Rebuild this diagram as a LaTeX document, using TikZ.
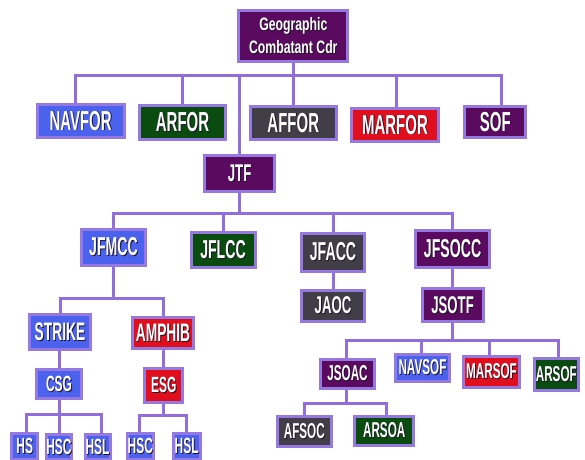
\documentclass[tikz,border=0pt]{standalone}
\usepackage{fontspec}
\newfontfamily\bxf[FakeStretch=0.545]{Liberation Sans Bold}
\newfontfamily\geof[FakeStretch=0.68]{Liberation Sans Bold}
\definecolor{navblue}{RGB}{74,98,238}
\definecolor{dgreen}{RGB}{10,75,15}
\definecolor{dgray}{RGB}{65,62,72}
\definecolor{cred}{RGB}{225,15,30}
\definecolor{cpurple}{RGB}{90,10,95}
\definecolor{bordc}{RGB}{150,120,225}
\definecolor{connc}{RGB}{145,110,220}
\definecolor{shadowc}{RGB}{30,20,40}
\newcommand\sh[1]{\rlap{\kern0.9pt\raisebox{-0.9pt}{\color{shadowc}#1}}#1}
\tikzset{
  box/.style={draw=bordc, line width=3pt, text=white, inner sep=0pt, align=center},
  conn/.style={draw=connc, line width=3pt},
  fs/.style={font=\bxf\fontsize{#1}{#1}\selectfont},
  sz/.style args={#1x#2}{minimum width=#1pt-3pt, minimum height=#2pt-3pt},
}
\begin{document}
\begin{tikzpicture}[x=1pt,y=-1pt]
\useasboundingbox (0,0) rectangle (585,459);
\fill[white] (0,0) rectangle (585,459);
% nodes
\node[box, fill=cpurple, sz=112x54, font=\geof\fontsize{18}{23}\selectfont] (geo) at (293.3,36) {\sh{Geographic}\\\sh{Combatant Cdr}};
\node[box, fill=navblue, fs=27.5, sz=90x36] (navfor) at (80.6,121) {\sh{NAVFOR}};
\node[box, fill=dgreen, fs=27.5, sz=89.5x37] (arfor) at (182.5,122.5) {\sh{ARFOR}};
\node[box, fill=dgray, fs=27.5, sz=89.5x36] (affor) at (293.3,123) {\sh{AFFOR}};
\node[box, fill=cred, fs=27.5, sz=89.5x36] (marfor) at (395,125) {\sh{MARFOR}};
\node[box, fill=cpurple, fs=27.5, sz=64x34] (sof) at (495.3,122) {\sh{SOF}};
\node[box, fill=cpurple, fs=24.2, sz=73.5x39] (jtf) at (239.6,173.5) {\sh{JTF}};
\node[box, fill=navblue, fs=25.9, sz=67x39.7] (jfmcc) at (113.5,247.5) {\sh{JFMCC}};
\node[box, fill=dgreen, fs=25.9, sz=67x38] (jflcc) at (223,250) {\sh{JFLCC}};
\node[box, fill=dgray, fs=25.9, sz=66.4x41] (jfacc) at (333,252.2) {\sh{JFACC}};
\node[box, fill=cpurple, fs=25.9, sz=76.5x40] (jfsocc) at (452.6,249.3) {\sh{JFSOCC}};
\node[box, fill=dgray, fs=24.2, sz=66x34] (jaoc) at (333,305.5) {\sh{JAOC}};
\node[box, fill=cpurple, fs=24.2, sz=64x36] (jsotf) at (452.6,305.3) {\sh{JSOTF}};
\node[box, fill=navblue, fs=25.3, sz=64.6x37.3] (strike) at (60,332) {\sh{STRIKE}};
\node[box, fill=cred, fs=25.3, sz=64.5x34] (amphib) at (163,333) {\sh{AMPHIB}};
\node[box, fill=navblue, fs=22, sz=48.5x31.7] (csg) at (59,384) {\sh{CSG}};
\node[box, fill=cred, fs=22, sz=41x36.7] (esg) at (163.8,385.7) {\sh{ESG}};
\node[box, fill=navblue, fs=22, sz=29x29] (hs) at (24.7,446.5) {\sh{HS}};
\node[box, fill=navblue, fs=22, sz=28x28] (hsc) at (59,447) {\sh{HSC}};
\node[box, fill=navblue, fs=22, sz=28x28] (hsl) at (97.5,447) {\sh{HSL}};
\node[box, fill=navblue, fs=22, sz=29x29] (hsc2) at (140.3,446.5) {\sh{HSC}};
\node[box, fill=navblue, fs=22, sz=30x29] (hsl2) at (186.7,446.5) {\sh{HSL}};
\node[box, fill=cpurple, fs=21.5, sz=57.4x31.7] (jsoac) at (347.5,374) {\sh{JSOAC}};
\node[box, fill=navblue, fs=21.5, sz=56.4x30.6] (navsof) at (422.5,368) {\sh{NAVSOF}};
\node[box, fill=cred, fs=21.5, sz=58.4x34] (marsof) at (491.5,372) {\sh{MARSOF}};
\node[box, fill=dgreen, fs=21.5, sz=47.3x34.4] (arsof) at (556.3,374.5) {\sh{ARSOF}};
\node[box, fill=dgray, fs=21.5, sz=56.7x33] (afsoc) at (304.3,431.5) {\sh{AFSOC}};
\node[box, fill=dgreen, fs=21.5, sz=61.7x31.7] (arsoa) at (384.2,431) {\sh{ARSOA}};
% connectors
\coordinate (b1) at (geo.south |- 0,75);
\draw[conn] (geo.south) -- (b1);
\draw[conn] (b1) -| ([xshift=-5.6pt]navfor.north);
\draw[conn] (b1) -| (arfor.north);
\draw[conn] (b1) -- (affor.north);
\draw[conn] (b1) -| ([xshift=1pt]marfor.north);
\draw[conn] (b1) -| ([xshift=6.2pt]sof.north);
\draw[conn] (jtf.north) -- (jtf.north |- b1);
\coordinate (b2) at (jtf.south |- 0,213);
\draw[conn] (jtf.south) -- (b2);
\draw[conn] (b2) -| (jfmcc.north);
\draw[conn] (b2) -| (jflcc.north);
\draw[conn] (b2) -| (jfacc.north);
\draw[conn] (b2) -| (jfsocc.north);
\draw[conn] (jfacc.south) -- (jaoc.north);
\draw[conn] (jfsocc.south) -- (jsotf.north);
\coordinate (b3) at (jfmcc.south |- 0,298.3);
\draw[conn] (jfmcc.south) -- (b3);
\draw[conn] (b3) -| (strike.north);
\draw[conn] (b3) -| (amphib.north);
\draw[conn] (csg.north) -- (csg.north |- strike.south);
\draw[conn] (amphib.south) -- (amphib.south -| esg.north) -- (esg.north);
\coordinate (b4) at (csg.south |- 0,414);
\draw[conn] (csg.south) -- (b4);
\draw[conn] (b4) -| ([xshift=2pt]hs.north);
\draw[conn] (b4) -- (hsc.north);
\draw[conn] (b4) -| ([xshift=4.2pt]hsl.north);
\coordinate (b5) at (esg.south |- 0,415);
\draw[conn] (esg.south) -- (b5);
\draw[conn] (b5) -| ([xshift=-1pt]hsc2.north);
\draw[conn] (b5) -| (hsl2.north);
\coordinate (b6) at (jsotf.south |- 0,340);
\draw[conn] (jsotf.south) -- (b6);
\draw[conn] (b6) -| ([xshift=-0.8pt]jsoac.north);
\draw[conn] (b6) -| ([xshift=-0.8pt]navsof.north);
\draw[conn] (b6) -| ([xshift=-2.2pt]marsof.north);
\draw[conn] (b6) -| ([xshift=2pt]arsof.north);
\coordinate (b7) at ([xshift=-0.8pt]jsoac.south |- 0,403.3);
\draw[conn] ([xshift=-0.8pt]jsoac.south) -- (b7);
\draw[conn] (b7) -| (afsoc.north);
\draw[conn] (b7) -| ([xshift=2.5pt]arsoa.north);
\end{tikzpicture}
\end{document}
